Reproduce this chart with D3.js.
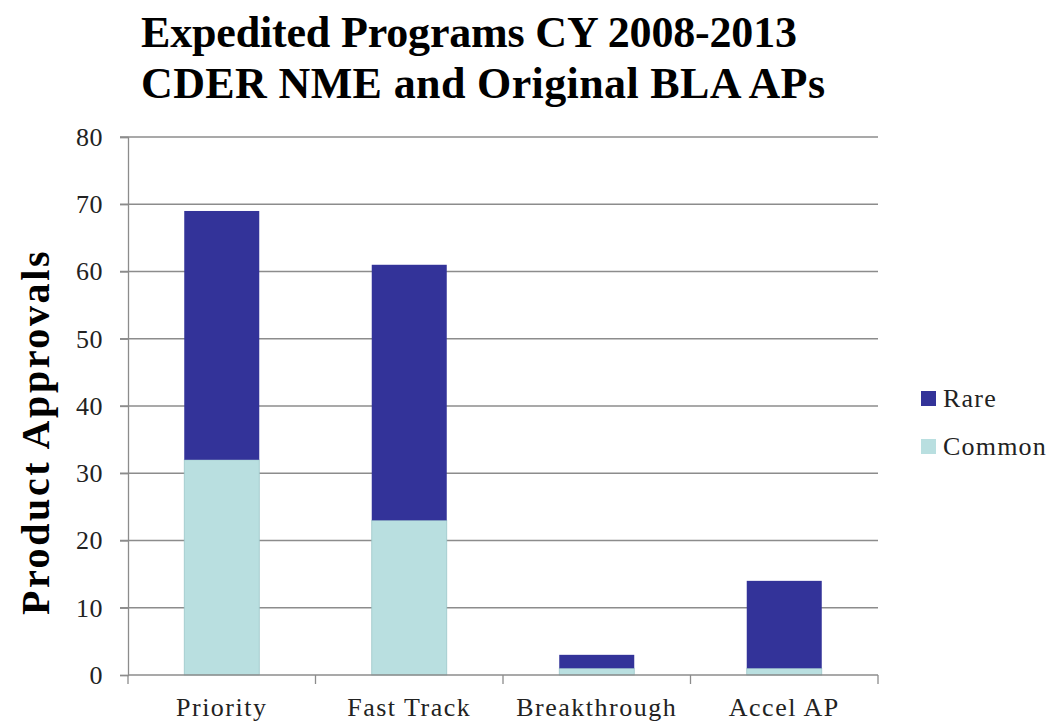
<!DOCTYPE html>
<html>
<head>
<meta charset="utf-8">
<script src="https://cdn.jsdelivr.net/npm/d3@7"></script>
<style>
  html, body { margin: 0; padding: 0; background: #fff; }
  svg { display: block; }
</style>
</head>
<body>
<svg id="chart" width="1056" height="722"></svg>
<script>
// Approvals by expedited program, split into common and rare indications
const categories = ["Priority", "Fast Track", "Breakthrough", "Accel AP"];
const common = [32, 23, 1, 1];
const rare = [37, 38, 2, 13];
const seriesNames = ["Common", "Rare"];
const yTicks = [0, 10, 20, 30, 40, 50, 60, 70, 80];

const colors = { Common: "#b9dfe0", Rare: "#333399" };
const serif = "'Liberation Serif', 'DejaVu Serif', serif";

const svg = d3.select("#chart");
const margin = { left: 128, right: 178, top: 137, bottom: 47 };
const W = 1056, H = 722;

const x = d3.scaleBand().domain(categories)
  .range([margin.left, W - margin.right]).paddingInner(0.6).paddingOuter(0.3);
const xOuter = d3.scaleBand().domain(categories)
  .range([margin.left, W - margin.right]).padding(0);
const y = d3.scaleLinear().domain([0, 80]).range([H - margin.bottom, margin.top]);

const rows = categories.map((c, i) => ({ cat: c, Common: common[i], Rare: rare[i] }));
const stacked = d3.stack().keys(seriesNames)(rows);

// gridlines
svg.append("g")
  .selectAll("line").data(yTicks.filter(t => t > 0)).join("line")
  .attr("x1", margin.left - 8).attr("x2", W - margin.right)
  .attr("y1", d => y(d)).attr("y2", d => y(d))
  .attr("stroke", "#8c8c8c").attr("stroke-width", 1.3);

// y axis
const yAxis = svg.append("g")
  .attr("transform", `translate(${margin.left},0)`)
  .call(d3.axisLeft(y).tickValues(yTicks).tickSize(8).tickPadding(17));
yAxis.select(".domain").attr("stroke", "#8c8c8c").attr("stroke-width", 1.3);
yAxis.selectAll(".tick line").attr("stroke", "#8c8c8c").attr("stroke-width", 1.3);
yAxis.selectAll("text").attr("font-family", serif).attr("font-size", 26)
  .attr("letter-spacing", 0.5).attr("fill", "#222");

// bars
svg.append("g").selectAll("g").data(stacked).join("g")
  .attr("fill", d => colors[d.key])
  .selectAll("rect").data(d => d).join("rect")
  .attr("x", d => x(d.data.cat))
  .attr("width", x.bandwidth())
  .attr("y", d => y(d[1]))
  .attr("height", d => y(d[0]) - y(d[1]))
  .attr("stroke", function() { return d3.select(this.parentNode).datum().key === "Common" ? "#9cc7c9" : "none"; })
  .attr("stroke-width", 0.8);

// x axis
const baseY = y(0);
svg.append("line")
  .attr("x1", margin.left).attr("x2", W - margin.right)
  .attr("y1", baseY).attr("y2", baseY)
  .attr("stroke", "#8c8c8c").attr("stroke-width", 1.3);
const boundaries = categories.map(c => xOuter(c)).concat([W - margin.right]);
svg.append("g").selectAll("line").data(boundaries).join("line")
  .attr("x1", d => d).attr("x2", d => d)
  .attr("y1", baseY).attr("y2", baseY + 9)
  .attr("stroke", "#8c8c8c").attr("stroke-width", 1.3);
svg.append("g").selectAll("text").data(categories).join("text")
  .attr("x", d => xOuter(d) + xOuter.bandwidth() / 2)
  .attr("y", baseY + 41)
  .attr("text-anchor", "middle")
  .attr("font-family", serif).attr("font-size", 26).attr("letter-spacing", 1.5)
  .attr("fill", "#222")
  .text(d => d);

// y axis title
svg.append("text")
  .attr("transform", `translate(49,${432}) rotate(-90)`)
  .attr("text-anchor", "middle")
  .attr("font-family", serif).attr("font-weight", "bold").attr("font-size", 40)
  .attr("letter-spacing", 2.6)
  .attr("fill", "#000")
  .text("Product Approvals");

// title
const title = svg.append("g").attr("font-family", serif).attr("font-weight", "bold")
  .attr("font-size", 44).attr("fill", "#000");
title.append("text").attr("x", 141).attr("y", 47)
  .attr("textLength", 656).attr("lengthAdjust", "spacing")
  .text("Expedited Programs CY 2008-2013");
title.append("text").attr("x", 141).attr("y", 98)
  .attr("textLength", 684).attr("lengthAdjust", "spacing")
  .text("CDER NME and Original BLA APs");

// legend
const legendItems = ["Rare", "Common"];
const lg = svg.append("g").selectAll("g").data(legendItems).join("g")
  .attr("transform", (d, i) => `translate(921,${391 + i * 48})`);
lg.append("rect").attr("width", 15).attr("height", 15).attr("fill", d => colors[d]);
lg.append("text").attr("x", 22).attr("y", 16)
  .attr("font-family", serif).attr("font-size", 26).attr("letter-spacing", 1.2)
  .attr("fill", "#222")
  .text(d => d);
</script>
</body>
</html>
